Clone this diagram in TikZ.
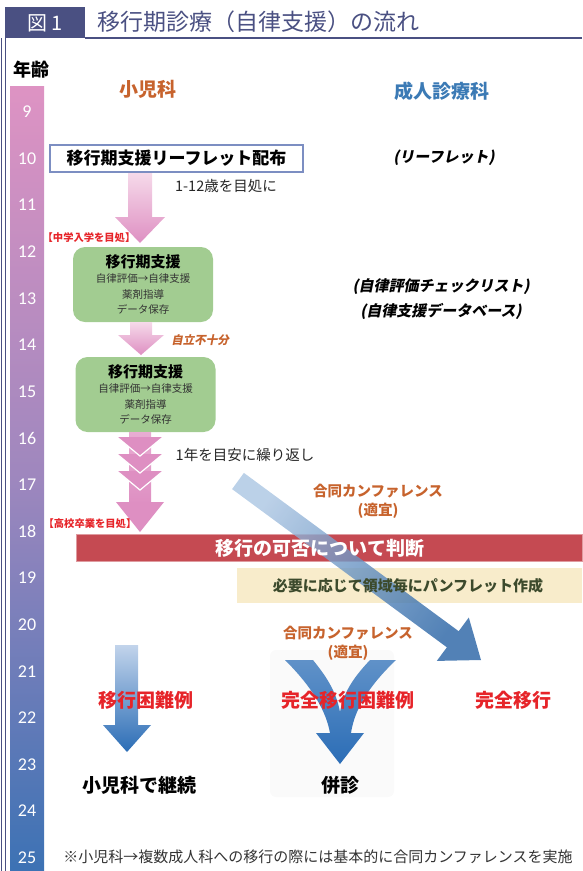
\documentclass[tikz,border=0pt]{standalone}
\usepackage{fontspec}
\setmainfont{Noto Sans CJK JP}
\newfontfamily\slantjp{Noto Sans CJK JP}[FakeSlant=0.2]
\newfontfamily\agefont{Carlito}
\usetikzlibrary{positioning,calc}

\definecolor{navy}{HTML}{4A5082}
\definecolor{agepink}{HTML}{DE93C3}
\definecolor{agepurple}{HTML}{9E87BE}
\definecolor{ageblue}{HTML}{3C72B4}
\definecolor{armpink}{HTML}{DE8FC2}
\definecolor{armpinklight}{HTML}{F6DAEA}
\definecolor{boxgreen}{HTML}{A2CC91}
\definecolor{barred}{HTML}{C54A52}
\definecolor{cream}{HTML}{F8ECCB}
\definecolor{brown}{HTML}{C7632D}
\definecolor{headblue}{HTML}{3B7AB5}
\definecolor{alert}{HTML}{E62429}
\definecolor{arrowblue}{HTML}{2B6DB6}
\definecolor{arrowlight}{HTML}{C2D4EB}
\definecolor{leafline}{HTML}{7C8EC2}
\definecolor{darkolive}{HTML}{3C4A2C}

\newcommand{\fsz}[1]{\fontsize{#1}{#1}\selectfont}

\tikzset{
  agenum/.style={font=\agefont\fsz{18}, text=white},
  dept/.style={font=\fsz{19}\bfseries},
  leafbox/.style={draw=leafline, line width=1.2pt, fill=white, minimum width=253pt,
    minimum height=27pt, font=\fsz{17}\bfseries},
  note/.style={font=\fsz{14.5}, text=black!85},
  redtag/.style={font=\fsz{10.3}\bfseries, text=alert},
  greenbox/.style={fill=boxgreen, rounded corners=12pt, minimum width=140pt,
    minimum height=75pt, align=center, font=\fontsize{10.5}{15.5}\selectfont, text=black!80},
  adultnote/.style={font=\slantjp\bfseries\fontsize{15}{25}\selectfont, align=center},
  conf/.style={font=\bfseries\fontsize{14.5}{19}\selectfont, text=brown, align=center},
  result/.style={font=\fsz{19}\bfseries, text=alert},
  outcome/.style={font=\fsz{19}\bfseries},
  pinkarrow/.style={top color=armpinklight, bottom color=armpink},
  bluearrow/.style={top color=arrowlight, bottom color=arrowblue}
}

\begin{document}
\begin{tikzpicture}[x=1pt,y=-1pt, every node/.style={inner sep=0pt}]
  \useasboundingbox (0,0) rectangle (582,871);

  % header and frame
  \fill[navy] (5,7) rectangle (85,38);
  \draw[navy, line width=2pt] (85,37.5) -- (582,37.5);
  \draw[navy, line width=1pt] (1.5,38) -- (1.5,871);
  \draw[navy, line width=1.5pt] (5.5,38) -- (5.5,871);
  \node[text=white, font=\fsz{20}] (fig) at (45,23) {図 1};
  \node[anchor=west, text=navy, font=\fsz{23}] (title) at (97,22) {移行期診療（自律支援）の流れ};

  % age scale
  \shade[top color=agepink, bottom color=ageblue, middle color=agepurple] (10,86) rectangle (44,871);
  \node[font=\fsz{18}\bfseries] (agelbl) at (31,70) {年齢};
  \foreach \a in {9,...,25}
    \node[agenum] (age\a) at (27,{112+(\a-9)*46.6}) {\a};

  % columns
  \node[dept, text=brown] (ped) at (148,89) {小児科};
  \node[dept, text=headblue] (adult) at (442,91) {成人診療科};

  \node[leafbox] (leaf) at (176.5,158.5) {移行期支援リーフレット配布};
  \node[adultnote] (leafnote) at (444,158) {(リーフレット)};

  \shade[pinkarrow] (128,173) -- (152,173) -- (152,217) -- (165,217) -- (140,243) -- (115,217) -- (128,217) -- cycle;
  \node[note] (aim1) at (226,186) {1-12歳を目処に};
  \node[redtag] (tag1) at (89,238) {【中学入学を目処】};

  \node[greenbox] (supp1) at (143,284.5) {{\fsz{15}\bfseries\color{black} 移行期支援}\\自律評価→自律支援\\薬剤指導\\データ保存};
  \node[adultnote] (checknote) at (441,299) {(自律評価チェックリスト)\\(自律支援データベース)};

  \shade[pinkarrow] (130,322) -- (152,322) -- (152,335) -- (164,335) -- (141,355) -- (118,335) -- (130,335) -- cycle;
  \node[font=\slantjp\bfseries\fsz{11.5}, text=brown] (lack) at (200,340) {自立不十分};

  \node[greenbox] (supp2) at (145.5,394.5) {{\fsz{15}\bfseries\color{black} 移行期支援}\\自律評価→自律支援\\薬剤指導\\データ保存};

  % repeated support
  \shade[top color=armpinklight!40!armpink, bottom color=armpink] (129,432) rectangle (151,504);
  \fill[armpink] (116,502) -- (164,502) -- (140,532) -- cycle;
  \foreach \y in {471,454,437} {
    \fill[armpink] (117,\y) -- (163,\y) -- (140,\y+19) -- cycle;
    \draw[white, line width=1.2pt] (117,\y) -- (140,\y+19) -- (163,\y);
  }
  \node[note] (repeat) at (245,455) {1年を目安に繰り返し};
  \node[redtag] (tag2) at (90,524) {【高校卒業を目処】};
  \node[conf] (conf1) at (378,501.5) {合同カンファレンス\\(適宜)};

  % decision
  \node[fill=barred, draw=barred!55!white, line width=1pt, minimum width=506pt, minimum height=27pt] (judge) at (329,547.5) {};
  \node[fill=cream, minimum width=345pt, minimum height=35pt] (pamph) at (409.5,585.5) {};

  \shade[top color=arrowblue!40!white, bottom color=arrowblue!90!black, shading angle=53.6, opacity=0.8]
    (243.9,472.9) -- (458.7,631.2) -- (468.8,617.5) -- (481,660) -- (436.8,660.9) -- (446.9,647.3) -- (232.1,489.1) -- cycle;

  \node[font=\fsz{19}\bfseries, text=white] (judgetext) at (320,548) {移行の可否について判断};
  \node[font=\fsz{15}\bfseries, text=darkolive] (pamphtext) at (408,585.5) {必要に応じて領域毎にパンフレット作成};

  % outcomes
  \shade[bluearrow] (115,645) -- (138,645) -- (138,725) -- (151,725) -- (127,752) -- (103,725) -- (115,725) -- cycle;

  \fill[black!2, rounded corners=6pt] (270,650) rectangle (394,797);
  \shade[top color=arrowblue!75!white, bottom color=arrowblue]
    (285,660) -- (313,660) .. controls (325,675) and (336,690) .. (340,712)
    .. controls (344,690) and (356,675) .. (370,660) -- (396,660)
    .. controls (375,680) and (355,705) .. (351,733) -- (364,733) -- (340,764) -- (316,733) -- (330,733)
    .. controls (325,705) and (305,680) .. (285,660) -- cycle;
  \node[conf] (conf2) at (348,643) {合同カンファレンス\\(適宜)};

  \node[result] (hard) at (146,700) {移行困難例};
  \node[result] (fullhard) at (348,700) {完全移行困難例};
  \node[result] (full) at (513,700) {完全移行};
  \node[outcome] (cont) at (139,785) {小児科で継続};
  \node[outcome] (both) at (340,785) {併診};

  \node[font=\fsz{15}, text=black!80] (foot) at (318,857) {※小児科→複数成人科への移行の際には基本的に合同カンファレンスを実施};
\end{tikzpicture}
\end{document}
